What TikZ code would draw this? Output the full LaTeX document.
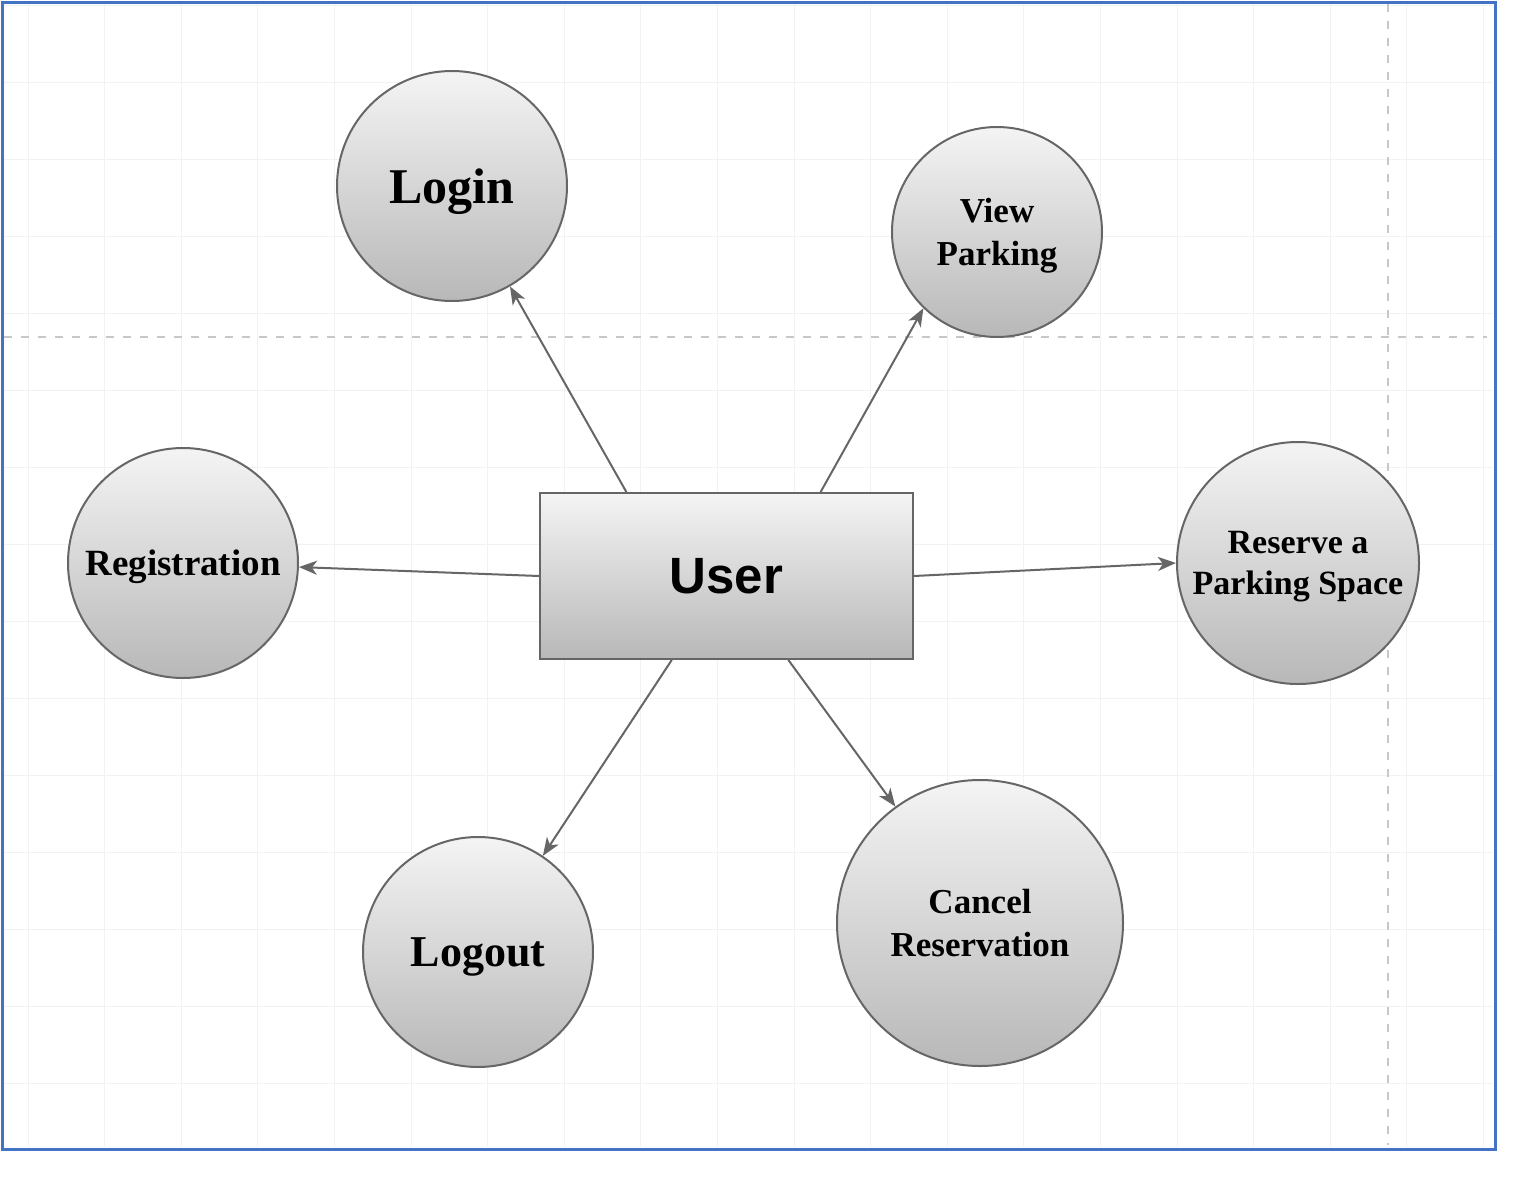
\documentclass[tikz,border=0pt]{standalone}
\usepackage{fontspec}
\setmainfont{Liberation Serif}
\newfontfamily\userfont{Liberation Sans}
\usetikzlibrary{arrows.meta,calc}
\definecolor{frameblue}{HTML}{4472C4}
\definecolor{edgegray}{HTML}{666666}
\definecolor{gridgray}{HTML}{F2F2F2}
\definecolor{breakgray}{HTML}{C8C8C8}
\definecolor{filltop}{HTML}{F4F4F4}
\definecolor{fillbot}{HTML}{B8B8B8}
\tikzset{
  gridline/.style={draw=gridgray, line width=1pt},
  pagebreak/.style={draw=breakgray, line width=2pt, dash pattern=on 8pt off 9pt},
  circ/.style={circle, draw=edgegray, line width=2pt, top color=filltop, bottom color=fillbot, inner sep=0pt, align=center, text depth=0pt},
  userbox/.style={rectangle, draw=edgegray, line width=2pt, top color=filltop, bottom color=fillbot, minimum width=373pt, minimum height=166pt},
  arr/.style={draw=edgegray, line width=2pt, -{Stealth[length=18pt, width=14pt, inset=5pt]}}
}
\begin{document}
\begin{tikzpicture}[x=1pt,y=-1pt]
\useasboundingbox (0,0) rectangle (1518,1191);
\fill[white] (0,0) rectangle (1518,1191);
% faint grid
\foreach \i in {0,...,19} \draw[gridline] ({28+76.6*\i},4) -- ({28+76.6*\i},1147);
\foreach \j in {0,...,14} \draw[gridline] (4,{5+77*\j}) -- (1493,{5+77*\j});
% page break lines
\draw[pagebreak] (4,337) -- (1487,337);
\draw[pagebreak] (1388,4) -- (1388,1145);
% frame
\draw[frameblue, line width=3pt] (2,2) rectangle (1495,1149);
% nodes
\node[userbox, font=\userfont\bfseries\fontsize{51}{51}\selectfont, text depth=0pt] (user) at (726.5,576) {User};
\node[circ, minimum size=230pt, font=\bfseries\fontsize{50}{50}\selectfont] (login) at (452,186) {Login};
\node[circ, minimum size=210pt, font=\bfseries\fontsize{35}{43}\selectfont] (view) at (997,232) {View\\Parking};
\node[circ, minimum size=230pt, font=\bfseries\fontsize{37}{42}\selectfont] (reg) at (183,563) {Registration};
\node[circ, minimum size=242pt, font=\bfseries\fontsize{34}{41}\selectfont] (reserve) at (1298,563) {Reserve a\\Parking Space};
\node[circ, minimum size=230pt, font=\bfseries\fontsize{44}{44}\selectfont] (logout) at (478,952) {Logout};
\node[circ, minimum size=286pt, font=\bfseries\fontsize{35}{43}\selectfont] (cancel) at (980,923) {Cancel\\Reservation};
% connectors
\draw[arr] ($(user.north west)!0.233!(user.north east)$) -- (login.300);
\draw[arr] ($(user.north west)!0.751!(user.north east)$) -- (view.226);
\draw[arr] (user.west) -- (reg.358);
\draw[arr] (user.east) -- (reserve.180);
\draw[arr] ($(user.south west)!0.354!(user.south east)$) -- (logout.56);
\draw[arr] ($(user.south west)!0.665!(user.south east)$) -- (cancel.126);
\end{tikzpicture}
\end{document}
